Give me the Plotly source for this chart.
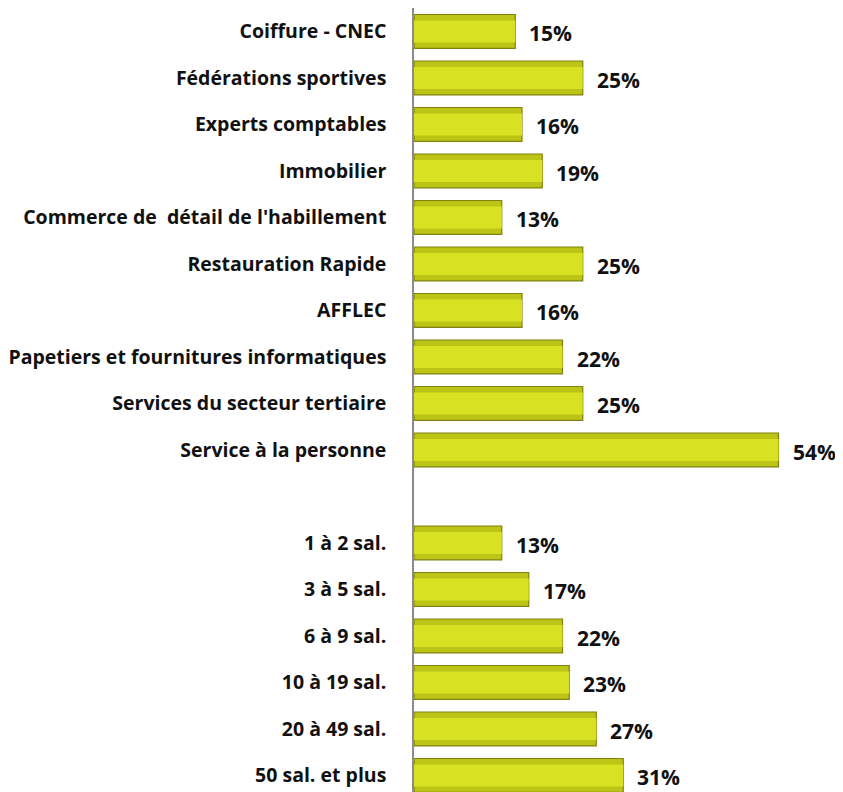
import plotly.graph_objects as go

categories = [
    "Coiffure - CNEC",
    "Fédérations sportives",
    "Experts comptables",
    "Immobilier",
    "Commerce de  détail de l'habillement",
    "Restauration Rapide",
    "AFFLEC",
    "Papetiers et fournitures informatiques",
    "Services du secteur tertiaire",
    "Service à la personne",
    " ",
    "1 à 2 sal.",
    "3 à 5 sal.",
    "6 à 9 sal.",
    "10 à 19 sal.",
    "20 à 49 sal.",
    "50 sal. et plus",
]
values = [15, 25, 16, 19, 13, 25, 16, 22, 25, 54, None, 13, 17, 22, 23, 27, 31]
labels = [f"{v}%" if v is not None else "" for v in values]

c_bar_outer = "#bcc416"
c_bar_inner = "#d9e123"
c_edge = "#7f8210"
c_axis = "#8c8c8c"
font_family = "Open Sans, Lato, sans-serif"

fig = go.Figure(
    [
        go.Bar(
            x=values,
            y=categories,
            orientation="h",
            width=0.73,
            marker=dict(color=c_bar_outer, line=dict(color=c_edge, width=1.2)),
            hoverinfo="skip",
        ),
        # lighter core to hint at the bevelled bars of the original
        go.Bar(
            x=values,
            y=categories,
            orientation="h",
            width=0.47,
            marker=dict(color=c_bar_inner, line=dict(width=0)),
            hoverinfo="skip",
        ),
    ]
)

for cat, v, lab in zip(categories, values, labels):
    if v is None:
        continue
    fig.add_annotation(
        x=v,
        y=cat,
        text=lab,
        showarrow=False,
        xanchor="left",
        xshift=12,
        yshift=-2,
        font=dict(family=font_family, size=21, color="#111111", weight="bold"),
    )

# the page body adds an 8px margin, so the figure is drawn 8px smaller
fig.update_layout(
    template="plotly_white",
    width=835,
    height=784,
    margin=dict(l=404, r=24, t=0, b=0),
    showlegend=False,
    barmode="overlay",
    plot_bgcolor="white",
    paper_bgcolor="white",
)
fig.update_xaxes(range=[0, 60], visible=False, showgrid=False, zeroline=False)
fig.update_yaxes(
    type="category",
    range=[16.355, -0.505],
    showgrid=False,
    zeroline=False,
    showline=True,
    linecolor=c_axis,
    linewidth=1.5,
    ticks="",
    ticklabelstandoff=22,
    tickfont=dict(family=font_family, size=19.5, color="#111111", weight="bold"),
)

fig.write_html("out.html")
